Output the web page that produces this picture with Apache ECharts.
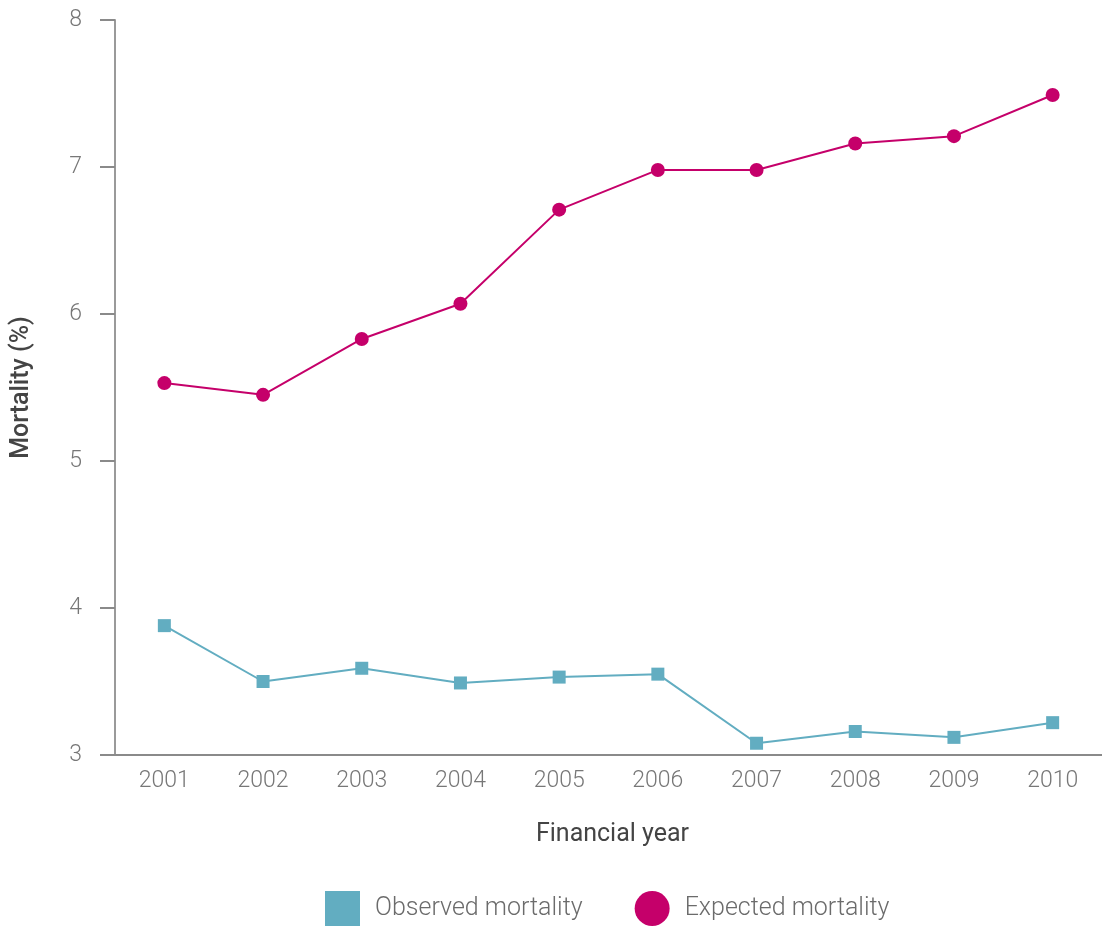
<!DOCTYPE html>
<html><head><meta charset="utf-8">
<script src="https://cdn.jsdelivr.net/npm/echarts@6/dist/echarts.min.js"></script>
<style>html,body{margin:0;padding:0;background:#fff}#c{width:1102px;height:927px}</style>
</head><body><div id="c"></div>
<script>
var years = ['2001','2002','2003','2004','2005','2006','2007','2008','2009','2010'];
var observed = [3.88, 3.50, 3.59, 3.49, 3.53, 3.55, 3.08, 3.16, 3.12, 3.22];
var expected = [5.53, 5.45, 5.83, 6.07, 6.71, 6.98, 6.98, 7.16, 7.21, 7.49];
var yTicks = [3, 4, 5, 6, 7, 8];

var chart = echarts.init(document.getElementById('c'), null, {renderer:'canvas'});
var font = 'Roboto, "Open Sans", sans-serif';
chart.setOption({
  animation: false,
  textStyle: {fontFamily: font},
  grid: {left: 115, right: 0, top: 20, bottom: 172, containLabel: false, outerBoundsMode: 'none'},
  legend: {
    bottom: 1, left: 325, padding: 0, itemGap: 52, itemWidth: 35, itemHeight: 35,
    textStyle: {fontSize: 25, color: '#6b6b6b', fontWeight: 300, fontFamily: font, padding: [0,0,0,10]},
    data: [
      {name: 'Observed mortality', icon: 'rect'},
      {name: 'Expected mortality', icon: 'circle'}
    ]
  },
  xAxis: {
    type: 'category', data: years, boundaryGap: true,
    name: 'Financial year', nameLocation: 'middle', nameGap: 67,
    nameTextStyle: {fontSize: 25, color: '#444', fontWeight: 400, padding: [0,0,0,8]},
    axisLine: {lineStyle: {color: '#8a8a8a', width: 2}},
    axisTick: {show: false},
    axisLabel: {fontSize: 23, color: '#777', fontWeight: 300, margin: 15}
  },
  yAxis: {
    type: 'value', min: yTicks[0], max: yTicks[yTicks.length-1], interval: 1,
    name: 'Mortality (%)', nameLocation: 'middle', nameGap: 81, nameRotate: 90,
    nameTextStyle: {fontSize: 25, color: '#444', fontWeight: 500},
    axisLine: {show: true, lineStyle: {color: '#9a9a9a', width: 2}},
    axisTick: {show: true, length: 15, lineStyle: {color: '#8a8a8a', width: 2}},
    splitLine: {show: false},
    axisLabel: {fontSize: 23, color: '#777', fontWeight: 300, margin: 33}
  },
  series: [
    {
      name: 'Observed mortality', type: 'line', data: observed,
      symbol: 'rect', symbolSize: 13,
      lineStyle: {color: '#62adc1', width: 2},
      itemStyle: {color: '#62adc1'}
    },
    {
      name: 'Expected mortality', type: 'line', data: expected,
      symbol: 'circle', symbolSize: 14,
      lineStyle: {color: '#c5006a', width: 2},
      itemStyle: {color: '#c5006a'}
    }
  ]
});
</script></body></html>
